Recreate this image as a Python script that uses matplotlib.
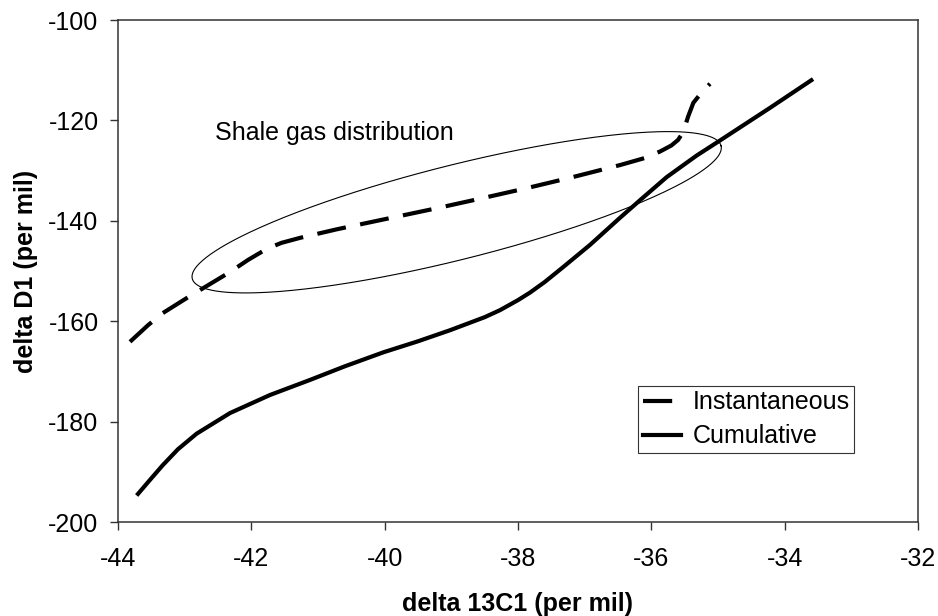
import numpy as np
import matplotlib
matplotlib.use("Agg")
import matplotlib.pyplot as plt

plt.rcParams["font.family"] = ["Liberation Sans", "DejaVu Sans"]
plt.rcParams["font.size"] = 18
plt.rcParams["axes.unicode_minus"] = False

# valores (delta 13C1, delta D1)
inst_x = [-43.82, -43.55, -43.33, -42.97, -42.72, -42.32, -42.05, -41.77, -41.55,
          -41.27, -40.72, -39.97, -39.22, -38.57, -37.87, -37.18, -36.47, -36.10,
          -35.87, -35.70, -35.60, -35.52, -35.45, -35.37, -35.25, -35.12]
inst_y = [-164.1, -160.8, -158.4, -155.4, -153.4, -150.2, -147.8, -145.6, -144.4,
          -143.4, -141.7, -139.6, -137.5, -135.6, -133.5, -131.3, -128.9, -127.5,
          -126.2, -125.0, -123.9, -122.3, -119.3, -116.5, -114.5, -112.7]

cum_x = [-43.70, -43.50, -43.33, -43.10, -42.82, -42.32, -41.72, -41.12, -40.60,
         -40.02, -39.50, -39.02, -38.72, -38.50, -38.27, -38.00, -37.82, -37.60,
         -37.33, -36.92, -36.47, -36.17, -35.77, -35.32, -34.97, -34.67, -34.22,
         -33.60]
cum_y = [-194.4, -191.3, -188.7, -185.5, -182.4, -178.3, -174.7, -171.7, -169.0,
         -166.2, -164.0, -161.8, -160.3, -159.2, -157.8, -155.8, -154.3, -152.2,
         -149.3, -144.8, -139.4, -135.9, -131.3, -127.0, -124.0, -121.4, -117.5,
         -112.0]

x_ticks = [-44, -42, -40, -38, -36, -34, -32]
y_ticks = [-200, -180, -160, -140, -120, -100]

# elipse "Shale gas distribution"
elipse_centro = (-38.92, -138.3)
elipse_eixo_maior = (3.966, 13.23)
elipse_eixo_menor = (-0.1725, 9.12)

fig = plt.figure(figsize=(9.38, 6.16), dpi=100)
ax = fig.add_axes([118 / 938, 94 / 616, 800 / 938, 502 / 616])

ax.plot(inst_x, inst_y, color="black", lw=3, dashes=(7, 3.5), label="Instantaneous",
        dash_capstyle="butt")
ax.plot(cum_x, cum_y, color="black", lw=3, label="Cumulative")

t = np.linspace(0, 2 * np.pi, 400)
ex = elipse_centro[0] + elipse_eixo_maior[0] * np.cos(t) + elipse_eixo_menor[0] * np.sin(t)
ey = elipse_centro[1] + elipse_eixo_maior[1] * np.cos(t) + elipse_eixo_menor[1] * np.sin(t)
ax.plot(ex, ey, color="black", lw=0.8)

ax.text(-42.55, -122.6, "Shale gas distribution", ha="left", va="center", fontsize=18)

ax.set_xlim(-44, -32)
ax.set_ylim(-200, -100)
ax.set_xticks(x_ticks)
ax.set_yticks(y_ticks)
ax.tick_params(direction="out", length=6, width=1, color="#333333", labelsize=18)
ax.tick_params(axis="x", pad=12)
ax.tick_params(axis="y", pad=8)
for s in ax.spines.values():
    s.set_color("#333333")
    s.set_linewidth(1.1)

ax.set_xlabel("delta 13C1 (per mil)", fontweight="bold", fontsize=18, labelpad=15)
ax.set_ylabel("delta D1 (per mil)", fontweight="bold", fontsize=18, labelpad=7.5)

leg = ax.legend(loc="lower left", bbox_to_anchor=(0.65, 0.1375), borderaxespad=0,
                frameon=True, fancybox=False, edgecolor="black", fontsize=18,
                handlelength=1.55, handletextpad=0.45, labelspacing=0.4,
                borderpad=0.18)
leg.get_frame().set_linewidth(0.8)

fig.savefig("out.png", dpi=100)
